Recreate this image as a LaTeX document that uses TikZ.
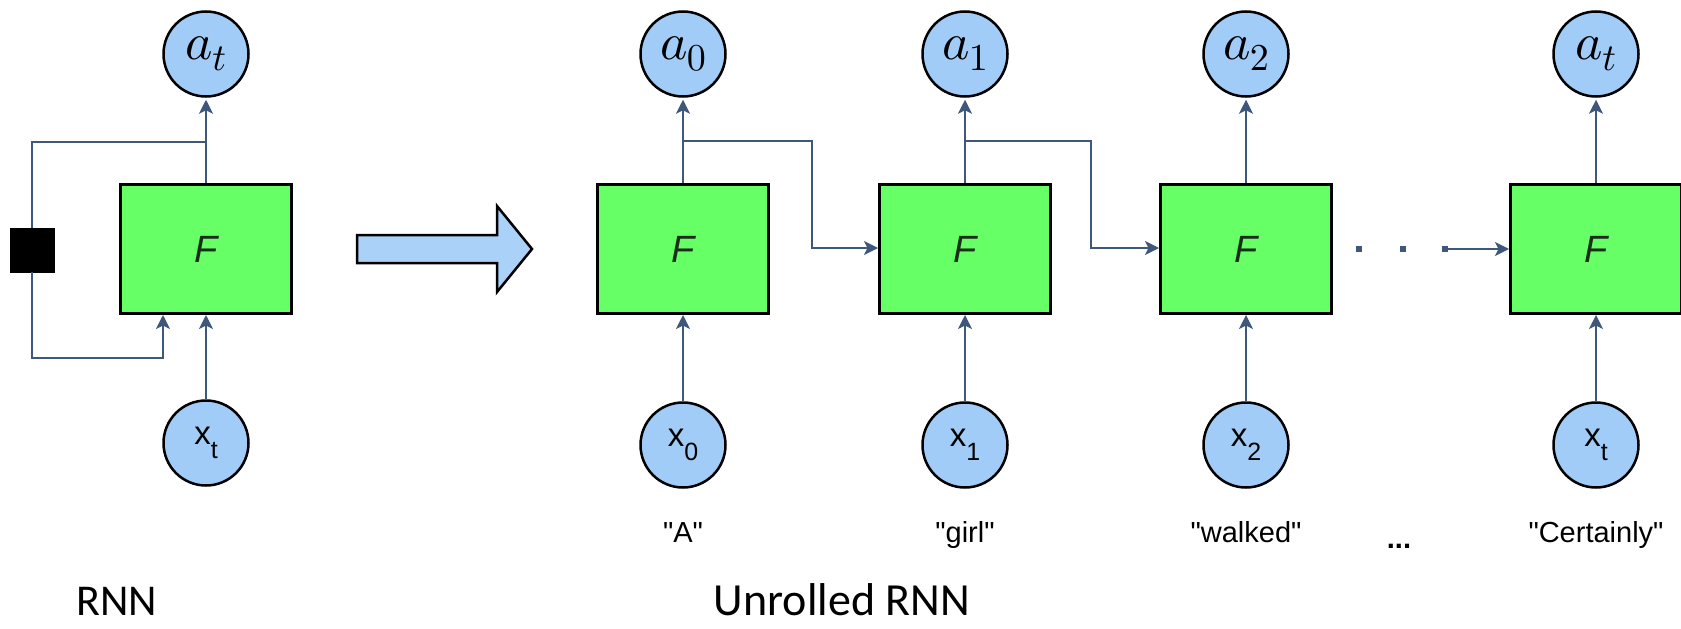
\documentclass[tikz,border=0pt]{standalone}
\usepackage[no-math]{fontspec}
\DeclareFontShape{OML}{cmm}{m}{it}{<->cmmi10}{}
\DeclareFontShape{OT1}{cmr}{m}{n}{<->cmr10}{}
\DeclareFontShape{OMS}{cmsy}{m}{n}{<->cmsy10}{}
\setmainfont{Liberation Sans}[Ligatures=TeXOff]
\newfontfamily\calibri{Carlito}
\usetikzlibrary{arrows.meta}
\definecolor{boxgreen}{RGB}{102,255,102}
\definecolor{circblue}{RGB}{160,204,247}
\definecolor{arrblue}{RGB}{170,210,248}
\definecolor{slate}{RGB}{62,88,124}
\definecolor{ftext}{RGB}{25,45,25}
\newcommand{\xlab}[1]{{\fontsize{33}{35}\selectfont x\raisebox{-0.42em}{\fontsize{25}{27}\selectfont #1}}}
\newcommand{\alab}[1]{{\fontsize{52}{54}\selectfont $a$\kern-1pt\raisebox{-0.2em}{\fontsize{38}{40}\selectfont $#1$}}}
\begin{document}
\begin{tikzpicture}[x=1pt,y=-1pt,
  cell/.style={draw=black, line width=3pt, fill=boxgreen, minimum width=171pt, minimum height=129pt, inner sep=0pt,
    font=\fontsize{38}{40}\selectfont\itshape, text=ftext},
  circ/.style={circle, draw=black, line width=2.5pt, fill=circblue, minimum size=85pt, inner sep=0pt},
  conn/.style={draw=slate, line width=2pt},
  arr/.style={conn, -{Stealth[length=14pt,width=14pt,inset=3.5pt]}},
  word/.style={font=\fontsize{29}{31}\selectfont, inner sep=0pt, anchor=base},
  title/.style={font=\calibri, inner sep=0pt, anchor=base}
]
\useasboundingbox (0,0) rectangle (1681,629);

% ---------- folded RNN ----------
\node[cell] (F) at (206,249) {F};
\node[circ] (at) at (206,54) {\alab{t}};
\node[circ] (xt) at (206,443) {\xlab{t}};
\node[draw=black, fill=black, minimum size=44pt, inner sep=0pt] (delay) at (32,250) {};
\coordinate (jt) at (206,142);
\coordinate (tl) at (32,142);
\coordinate (bl) at (32,358);
\coordinate (br) at (163,358);
\draw[arr, shorten >=2pt] (F.north) -- (at.south);
\draw[conn] (jt) -- (tl) -- (delay.north);
\draw[arr] (delay.south) -- (bl) -- (br) -- (br |- F.south);
\draw[arr] (xt.north) -- (F.south);

% ---------- big arrow ----------
\draw[line width=2.5pt, fill=arrblue, line join=miter]
  (357,235) -- (497,235) -- (497,206) -- (532,249) -- (497,292) -- (497,263) -- (357,263) -- cycle;

% ---------- unrolled ----------
\foreach \n/\x/\s/\w in {0/683/0/{"A"}, 1/965/1/{"girl"}, 2/1246/2/{"walked"}, 3/1596/t/{"Certainly"}} {
  \node[cell] (F\n) at (\x,249) {F};
  \node[circ] (a\n) at (\x,54) {\alab{\s}};
  \node[circ] (x\n) at (\x,445) {\xlab{\s}};
  \node[word] (w\n) at (\x,542) {\w};
  \draw[arr, shorten >=2pt] (F\n.north) -- (a\n.south);
  \draw[arr] (x\n.north) -- (F\n.south);
}

\coordinate (j0) at (683,141);
\coordinate (k0) at (812,141);
\coordinate (m0) at (812,248);
\draw[arr] (j0) -- (k0) -- (m0) -- (F1.west |- m0);

\coordinate (j1) at (965,141);
\coordinate (k1) at (1091,141);
\coordinate (m1) at (1091,248);
\draw[arr] (j1) -- (k1) -- (m1) -- (F2.west |- m1);

\foreach \i/\x in {1/1359, 2/1403, 3/1445} {
  \node[fill=slate, minimum size=6pt, inner sep=0pt] (d\i) at (\x,249) {};
}
\draw[arr] (d3.center) -- (F3.west);

\node[word, font=\fontsize{29}{31}\selectfont\bfseries] (dots) at (1399,548) {...};

\node[title, font=\calibri\fontsize{44}{46}\selectfont] (rnn) at (117,615) {RNN};
\node[title, font=\calibri\fontsize{46}{48}\selectfont] (urnn) at (842,615) {Unrolled RNN};
\end{tikzpicture}
\end{document}
